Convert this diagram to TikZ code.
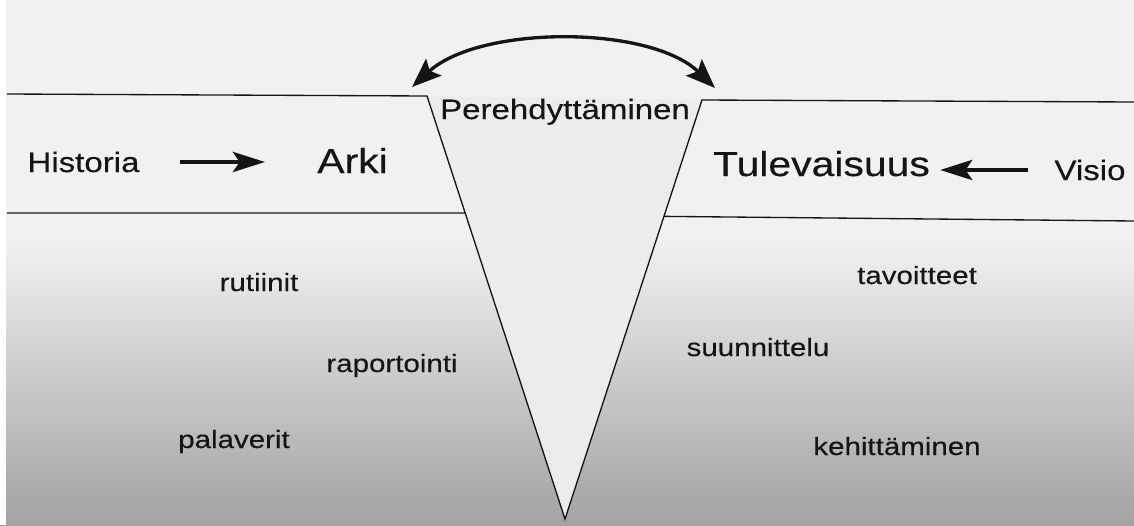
\documentclass[tikz,border=0pt]{standalone}
\usepackage{fontspec}
\setmainfont{Liberation Sans}[FakeStretch=1.18,FakeBold=0.3]
\usetikzlibrary{arrows.meta,calc}
\definecolor{bgtop}{HTML}{F1F1F1}
\definecolor{bgbot}{HTML}{A2A2A2}
\definecolor{wedgefill}{HTML}{ECECEC}
\definecolor{ink}{HTML}{151515}
\begin{document}
\begin{tikzpicture}[x=0.75pt,y=-0.75pt,
  edge/.style={draw=ink, line width=1pt},
  lbl/.style={anchor=base, inner sep=0pt, text=ink},
  small/.style={lbl, font=\fontsize{18.75}{22}\selectfont},
  midlbl/.style={lbl, font=\fontsize{21}{25}\selectfont},
  biglbl/.style={lbl, font=\fontsize{26}{30}\selectfont},
  arr/.style={draw=ink, line width=3.4pt, -{Stealth[length=24pt,width=15pt,inset=5pt]}},
  arcarr/.style={draw=ink, line width=2.5pt, {Stealth[length=22pt,width=17pt,inset=4pt]}-{Stealth[length=22pt,width=17pt,inset=4pt]}}
]
\useasboundingbox (0,0) rectangle (1134,525);
% background
\fill[bgtop] (0,0) rectangle (1134,241);
\shade[top color=bgtop, bottom color=bgbot] (0,240) rectangle (1134,525);
\fill[white] (0,0) rectangle (6,525);
% geometry
\coordinate (LT0) at (7,94);
\coordinate (LT1) at (427,96);
\coordinate (RT0) at (702,100);
\coordinate (RT1) at (1134,102);
\coordinate (tip) at (565,519);
\coordinate (LB1) at ($(LT1)!0.2766!(tip)$);
\coordinate (LB0) at (7,213);
\coordinate (RB0) at ($(RT0)!0.2777!(tip)$);
\coordinate (RB1) at (1134,221);
\fill[wedgefill] (LT1) -- (RT0) -- (tip) -- cycle;
\draw[edge] (LT0) -- (LT1) -- (tip) -- (RT0) -- (RT1);
\draw[edge] (LB0) -- (LB1);
\draw[edge] (RB0) -- (RB1);
% arc
\coordinate (AL) at (412,87);
\coordinate (AR) at (715,88);
\draw[arcarr] (AL) .. controls (480,25) and (650,25) .. (AR);
% labels
\node[midlbl] (pere) at (565,119) {Perehdyttäminen};
\node[midlbl] (hist) at (83.5,172) {Historia};
\node[biglbl] (arki) at (352.5,173) {Arki};
\node[biglbl] (tul) at (821.5,176) {Tulevaisuus};
\node[midlbl] (visio) at (1090,180) {Visio};
\node[small] (rut) at (259,291) {rutiinit};
\node[small] (rap) at (392,372) {raportointi};
\node[small] (pal) at (234,448) {palaverit};
\node[small] (tav) at (917,284) {tavoitteet};
\node[small] (suu) at (758,356) {suunnittelu};
\node[small] (keh) at (897,455) {kehittäminen};
% arrows
\draw[arr, shorten <=30pt, shorten >=39pt] (hist.east) -- (hist.east -| arki.west);
\draw[arr, shorten <=19.5pt, shorten >=7.5pt] (visio.west) -- (visio.west -| tul.east);
\end{tikzpicture}
\end{document}
